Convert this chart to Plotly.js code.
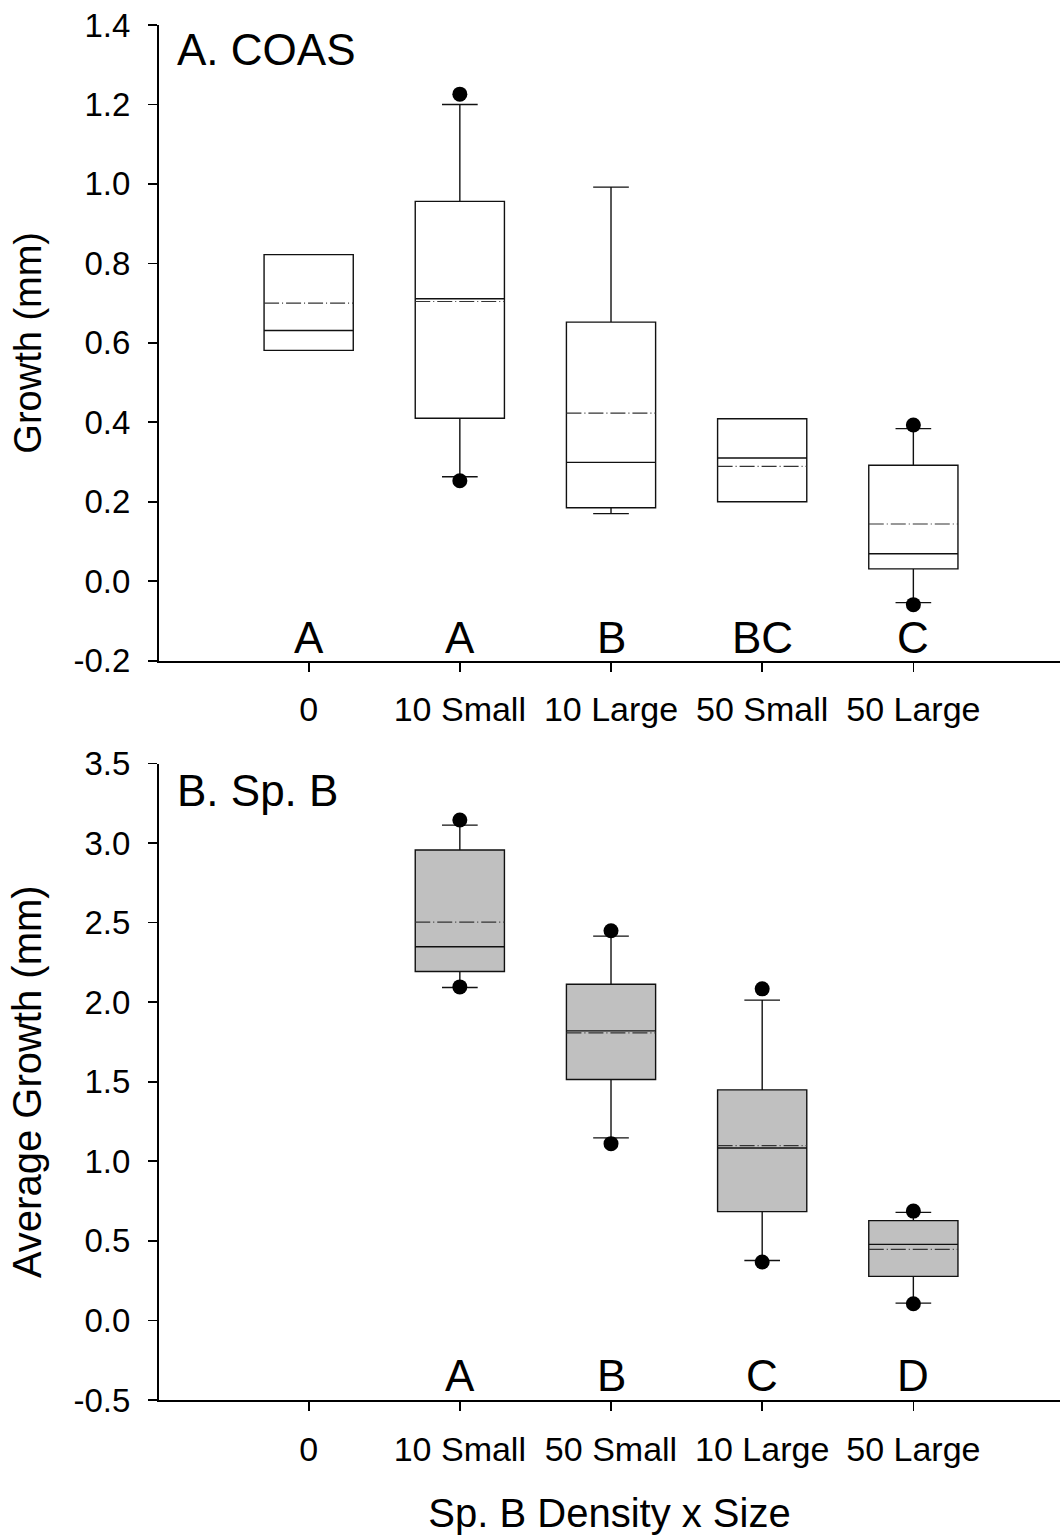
<!DOCTYPE html>
<html>
<head>
<meta charset="utf-8">
<script src="https://cdn.plot.ly/plotly-3.0.1.min.js"></script>
<style>
  html, body { margin: 0; padding: 0; background: #ffffff; }
  #chart { width: 1060px; height: 1535px; }
</style>
</head>
<body>
<div id="chart"></div>
<script>
// ---------- Panel A: COAS ----------
var topCats    = ["0", "10 Small", "10 Large", "50 Small", "50 Large"];
var topQ1      = [0.581, 0.410, 0.185, 0.200, 0.031];
var topMedian  = [0.631, 0.711, 0.299, 0.310, 0.069];
var topQ3      = [0.822, 0.956, 0.652, 0.409, 0.292];
var topLower   = [0.581, 0.263, 0.170, 0.200, -0.054];
var topUpper   = [0.822, 1.200, 0.992, 0.409, 0.384];
var topMean    = [0.700, 0.704, 0.423, 0.289, 0.144];
var topOutX    = ["10 Small", "10 Small", "50 Large", "50 Large"];
var topOutY    = [1.226, 0.253, 0.393, -0.059];
var topLetters = ["A", "A", "B", "BC", "C"];
var topTickVals = [-0.2, 0.0, 0.2, 0.4, 0.6, 0.8, 1.0, 1.2, 1.4];
var topTickText = ["-0.2", "0.0", "0.2", "0.4", "0.6", "0.8", "1.0", "1.2", "1.4"];

// ---------- Panel B: Sp. B ----------
var botCats    = ["0", "10 Small", "50 Small", "10 Large", "50 Large"];
var botBoxCats = ["10 Small", "50 Small", "10 Large", "50 Large"];
var botQ1      = [2.193, 1.514, 0.684, 0.277];
var botMedian  = [2.348, 1.820, 1.084, 0.478];
var botQ3      = [2.956, 2.113, 1.449, 0.627];
var botLower   = [2.092, 1.147, 0.377, 0.109];
var botUpper   = [3.113, 2.415, 2.013, 0.679];
var botMean    = [2.503, 1.807, 1.099, 0.447];
var botOutX    = ["10 Small", "10 Small", "50 Small", "50 Small", "10 Large", "10 Large", "50 Large", "50 Large"];
var botOutY    = [3.145, 2.096, 2.449, 1.111, 2.084, 0.367, 0.687, 0.105];
var botLetters = ["A", "B", "C", "D"];
var botTickVals = [-0.5, 0.0, 0.5, 1.0, 1.5, 2.0, 2.5, 3.0, 3.5];
var botTickText = ["-0.5", "0.0", "0.5", "1.0", "1.5", "2.0", "2.5", "3.0", "3.5"];

var FONT = "Liberation Sans, Arial, Helvetica, sans-serif";

var traces = [
  {
    type: "box", xaxis: "x", yaxis: "y",
    x: topCats, q1: topQ1, median: topMedian, q3: topQ3,
    lowerfence: topLower, upperfence: topUpper, mean: topMean,
    boxmean: true, boxpoints: false, width: 0.59, whiskerwidth: 0.4,
    fillcolor: "#ffffff", line: { color: "#111111", width: 1.4 },
    hoverinfo: "skip"
  },
  {
    type: "scatter", mode: "markers", xaxis: "x", yaxis: "y",
    x: topOutX, y: topOutY, cliponaxis: false,
    marker: { color: "#000000", size: 15 }, hoverinfo: "skip"
  },
  {
    type: "box", xaxis: "x2", yaxis: "y2",
    x: botBoxCats, q1: botQ1, median: botMedian, q3: botQ3,
    lowerfence: botLower, upperfence: botUpper, mean: botMean,
    boxmean: true, boxpoints: false, width: 0.59, whiskerwidth: 0.4,
    fillcolor: "#c0c0c0", line: { color: "#111111", width: 1.4 },
    hoverinfo: "skip"
  },
  {
    type: "scatter", mode: "markers", xaxis: "x2", yaxis: "y2",
    x: botOutX, y: botOutY, cliponaxis: false,
    marker: { color: "#000000", size: 15 }, hoverinfo: "skip"
  }
];

var annotations = [];
topCats.forEach(function (c, i) {
  annotations.push({ xref: "x", yref: "y", x: c, y: -0.1407, text: topLetters[i],
    showarrow: false, xanchor: "center", yanchor: "middle",
    font: { family: FONT, size: 44, color: "#000" } });
});
botBoxCats.forEach(function (c, i) {
  annotations.push({ xref: "x2", yref: "y2", x: c, y: -0.348, text: botLetters[i],
    showarrow: false, xanchor: "center", yanchor: "middle",
    font: { family: FONT, size: 44, color: "#000" } });
});
annotations.push({ xref: "paper", yref: "paper", x: 0.018, y: 0.9823, text: "A. COAS",
  showarrow: false, xanchor: "left", yanchor: "middle",
  font: { family: FONT, size: 44, color: "#000" } });
annotations.push({ xref: "paper", yref: "paper", x: 0.018, y: 0.4436, text: "B. Sp. B",
  showarrow: false, xanchor: "left", yanchor: "middle",
  font: { family: FONT, size: 44, color: "#000" } });

function xAxis(cats, anchor) {
  return {
    anchor: anchor, domain: [0, 1], type: "category",
    categoryorder: "array", categoryarray: cats,
    range: [-0.99, 4.97],
    showline: true, linecolor: "#000", linewidth: 2,
    ticks: "outside", ticklen: 9, tickwidth: 1.7, tickcolor: "#000",
    tickfont: { family: FONT, size: 34, color: "#000" },
    ticklabelstandoff: 9,
    showgrid: false, zeroline: false, fixedrange: true
  };
}
function yAxis(dom, rng, tv, tt, title, tsize, anchor) {
  return {
    anchor: anchor, domain: dom, range: rng,
    tickmode: "array", tickvals: tv, ticktext: tt,
    showline: true, linecolor: "#000", linewidth: 2,
    ticks: "outside", ticklen: 9, tickwidth: 1.7, tickcolor: "#000",
    tickfont: { family: FONT, size: 33, color: "#000" },
    ticklabelstandoff: 11,
    title: { text: title, font: { family: FONT, size: tsize, color: "#000" }, standoff: 20 },
    showgrid: false, zeroline: false, fixedrange: true
  };
}

var xb = xAxis(botCats, "y2");
xb.title = { text: "Sp. B Density x Size", font: { family: FONT, size: 40, color: "#000" }, standoff: 44 };

var layout = {
  width: 1060, height: 1535,
  margin: { l: 159, r: 0, t: 25, b: 135 },
  paper_bgcolor: "#ffffff", plot_bgcolor: "#ffffff",
  font: { family: FONT, color: "#000" },
  showlegend: false,
  xaxis: xAxis(topCats, "y"),
  yaxis: yAxis([0.5377, 1], [-0.2, 1.4], topTickVals, topTickText, "Growth (mm)", 38, "x"),
  xaxis2: xb,
  yaxis2: yAxis([0, 0.4629], [-0.5, 3.5], botTickVals, botTickText, "Average Growth (mm)", 40, "x2"),
  annotations: annotations
};

Plotly.newPlot("chart", traces, layout, { displayModeBar: false, staticPlot: true }).then(function (gd) {
  // style the mean lines as long dash-dot, like the original figure
  gd.querySelectorAll("path.mean").forEach(function (p) {
    p.style.strokeDasharray = "15px,3px,1px,3px";
    p.style.stroke = "#333333";
    p.style.strokeWidth = "1.2px";
  });
});
</script>
</body>
</html>
